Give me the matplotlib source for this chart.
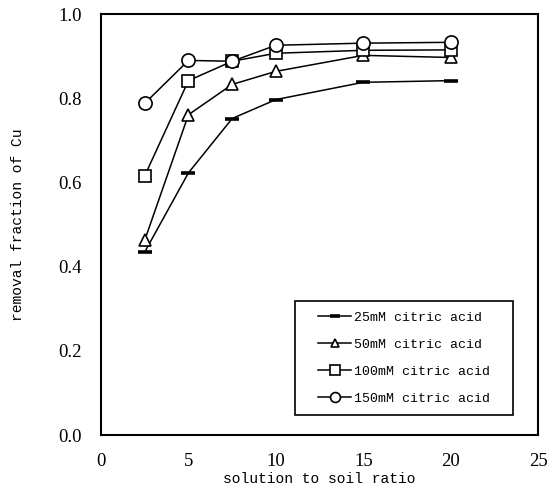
import matplotlib
matplotlib.use("Agg")
import matplotlib.pyplot as plt
from matplotlib.patches import Rectangle

# solution to soil ratio
ratio = [2.5, 5, 7.5, 10, 15, 20]

# removal fraction of Cu for each citric acid concentration
cu_25mM = [0.435, 0.623, 0.752, 0.797, 0.838, 0.842]
cu_50mM = [0.463, 0.761, 0.833, 0.864, 0.902, 0.897]
cu_100mM = [0.616, 0.842, 0.888, 0.907, 0.914, 0.915]
cu_150mM = [0.788, 0.890, 0.888, 0.926, 0.931, 0.933]

labels = ["25mM citric acid", "50mM citric acid",
          "100mM citric acid", "150mM citric acid"]

x_ticks = [0, 5, 10, 15, 20, 25]
y_ticks = [0.0, 0.2, 0.4, 0.6, 0.8, 1.0]

SERIF = "Liberation Serif"
MONO = "Liberation Mono"

fig = plt.figure(figsize=(5.52, 4.95), dpi=100)
ax = fig.add_axes([0.183, 0.121, 0.792, 0.8505])

common = dict(color="black", linewidth=1.1, markeredgecolor="black",
              markerfacecolor="white", markeredgewidth=1.2)
ax.plot(ratio, cu_25mM, marker="_", markersize=10, markeredgewidth=2.6,
        color="black", linewidth=1.1, label=labels[0], zorder=3)
ax.plot(ratio, cu_50mM, marker="^", markersize=8, label=labels[1],
        zorder=4, **common)
ax.plot(ratio, cu_100mM, marker="s", markersize=9, label=labels[2],
        zorder=5, **common)
ax.plot(ratio, cu_150mM, marker="o", markersize=9.5, label=labels[3],
        zorder=6, **common)

ax.set_xlim(0, 25)
ax.set_ylim(0, 1.0)
ax.set_xticks(x_ticks)
ax.set_yticks(y_ticks)
ax.set_xticklabels([str(t) for t in x_ticks], fontfamily=SERIF, fontsize=13.5)
ax.set_yticklabels([f"{t:.1f}" for t in y_ticks], fontfamily=SERIF, fontsize=13.5)
ax.tick_params(axis="both", length=0)
ax.tick_params(axis="x", pad=13)
ax.tick_params(axis="y", pad=14)

for spine in ax.spines.values():
    spine.set_linewidth(1.5)

ax.set_xlabel("solution to soil ratio", fontfamily=MONO, fontsize=10.5,
              labelpad=1)
ax.set_ylabel("removal fraction of Cu", fontfamily=MONO, fontsize=10.5)
ax.yaxis.set_label_coords(-0.174, 0.5)

# legend box drawn by hand so its padding can be set per side
box_x0, box_x1 = 0.444, 0.943
box_y0, box_y1 = 0.0475, 0.318
ax.add_patch(Rectangle((box_x0, box_y0), box_x1 - box_x0, box_y1 - box_y0,
                       transform=ax.transAxes, facecolor="white",
                       edgecolor="black", linewidth=1.2, zorder=7))
leg = ax.legend(loc="center",
                bbox_to_anchor=((box_x0 + box_x1) / 2, (box_y0 + box_y1) / 2),
                prop={"family": MONO, "size": 9.5}, frameon=False,
                handlelength=2.5, handletextpad=0.2, labelspacing=1.12,
                borderpad=0, borderaxespad=0, markerscale=0.75)
leg.set_zorder(8)

fig.savefig("out.png", dpi=100)
